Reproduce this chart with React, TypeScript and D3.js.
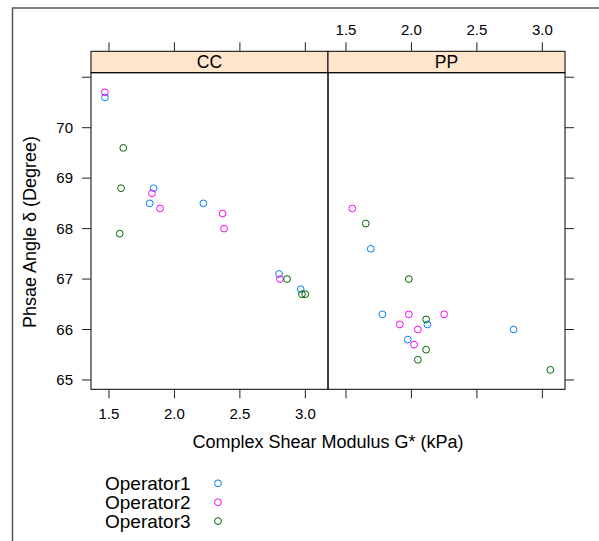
import React from 'react'
import * as d3 from 'd3'

// values
const panels = ['CC', 'PP']
const operators = ['Operator1', 'Operator2', 'Operator3']
const colors = ['#0080ff', '#ff00ff', '#006400']

const ccOp1 = [[1.469, 70.6], [1.841, 68.8], [1.811, 68.5], [2.221, 68.5], [2.799, 67.1], [2.964, 66.8]]
const ccOp2 = [[1.469, 70.7], [1.828, 68.7], [1.890, 68.4], [2.368, 68.3], [2.379, 68.0], [2.806, 67.0]]
const ccOp3 = [[1.609, 69.6], [1.592, 68.8], [1.582, 67.9], [2.860, 67.0], [2.974, 66.7], [2.999, 66.7]]
const ppOp1 = [[1.689, 67.6], [1.778, 66.3], [2.122, 66.1], [2.780, 66.0], [1.972, 65.8]]
const ppOp2 = [[1.548, 68.4], [1.980, 66.3], [2.250, 66.3], [1.911, 66.1], [2.049, 66.0], [2.020, 65.7]]
const ppOp3 = [[1.651, 68.1], [1.980, 67.0], [2.112, 66.2], [2.112, 65.6], [2.049, 65.4], [3.061, 65.2]]

const xTicks = [1.5, 2.0, 2.5, 3.0]
const yTicks = [65, 66, 67, 68, 69, 70, 71]
const yTickLabels = [65, 66, 67, 68, 69, 70]

const font = '"Liberation Sans", Arial, Helvetica, sans-serif'

export default function App() {
  const panelTop = 72.7
  const panelBottom = 389.3
  const stripTop = 51.3
  const panelW = 237
  const lefts = [91, 328]

  const y = d3.scaleLinear().domain([64.815, 71.09]).range([panelBottom, panelTop])
  const xs = lefts.map(l => d3.scaleLinear().domain([1.3625, 3.173]).range([l, l + panelW]))

  const data = [[ccOp1, ccOp2, ccOp3], [ppOp1, ppOp2, ppOp3]]
  const tickLen = 9

  return (
    <svg width={599} height={541} style={{ position: 'absolute', left: 0, top: 0, fontFamily: font }}>
      <rect x={0} y={0} width={599} height={541} fill="white" />
      <rect x={12.5} y={8} width={800} height={800} fill="none" stroke="#555" strokeWidth={1.5} />

      {panels.map((p, i) => {
        const x = xs[i]
        const l = lefts[i]
        return (
          <g key={p}>
            {/* strip */}
            <rect x={l} y={stripTop} width={panelW} height={panelTop - stripTop} fill="#ffe5cc" stroke="black" strokeWidth={1} />
            <text x={l + panelW / 2} y={panelTop - 4.5} textAnchor="middle" fontSize={17.5}>{p}</text>
            {/* panel box */}
            <rect x={l} y={panelTop} width={panelW} height={panelBottom - panelTop} fill="none" stroke="black" strokeWidth={1} />
            {/* x ticks top and bottom */}
            {xTicks.map(t => (
              <g key={t}>
                <line x1={x(t)} x2={x(t)} y1={stripTop} y2={stripTop - tickLen} stroke="#222" />
                <line x1={x(t)} x2={x(t)} y1={panelBottom} y2={panelBottom + tickLen} stroke="#222" />
                {i === 1 && <text x={x(t)} y={34.5} textAnchor="middle" fontSize={15}>{t.toFixed(1)}</text>}
                {i === 0 && <text x={x(t)} y={418.5} textAnchor="middle" fontSize={15}>{t.toFixed(1)}</text>}
              </g>
            ))}
            {/* y ticks */}
            {yTicks.map(t => (
              i === 0
                ? <line key={t} x1={l} x2={l - tickLen} y1={y(t)} y2={y(t)} stroke="#222" />
                : <line key={t} x1={l + panelW} x2={l + panelW + tickLen} y1={y(t)} y2={y(t)} stroke="#222" />
            ))}
            {i === 0 && yTickLabels.map(t => (
              <text key={t} x={73} y={y(t) + 5.3} textAnchor="end" fontSize={15}>{t}</text>
            ))}
            {/* points */}
            {data[i].map((series, k) => series.map((d, j) => (
              <circle key={k + '-' + j} cx={x(d[0])} cy={y(d[1])} r={3.4} fill="none" stroke={colors[k]} strokeWidth={1} />
            )))}
          </g>
        )
      })}

      <text x={328} y={447.5} textAnchor="middle" fontSize={18}>Complex Shear Modulus G* (kPa)</text>
      <text transform={`translate(35.5,232) rotate(-90)`} textAnchor="middle" fontSize={18}>Phsae Angle δ (Degree)</text>

      {operators.map((o, k) => (
        <g key={o}>
          <text x={105} y={483.3 + k * 18.9 + 6.5} fontSize={19}>{o}</text>
          <circle cx={218} cy={483.3 + k * 18.9} r={3.4} fill="none" stroke={colors[k]} strokeWidth={1} />
        </g>
      ))}
    </svg>
  )
}
